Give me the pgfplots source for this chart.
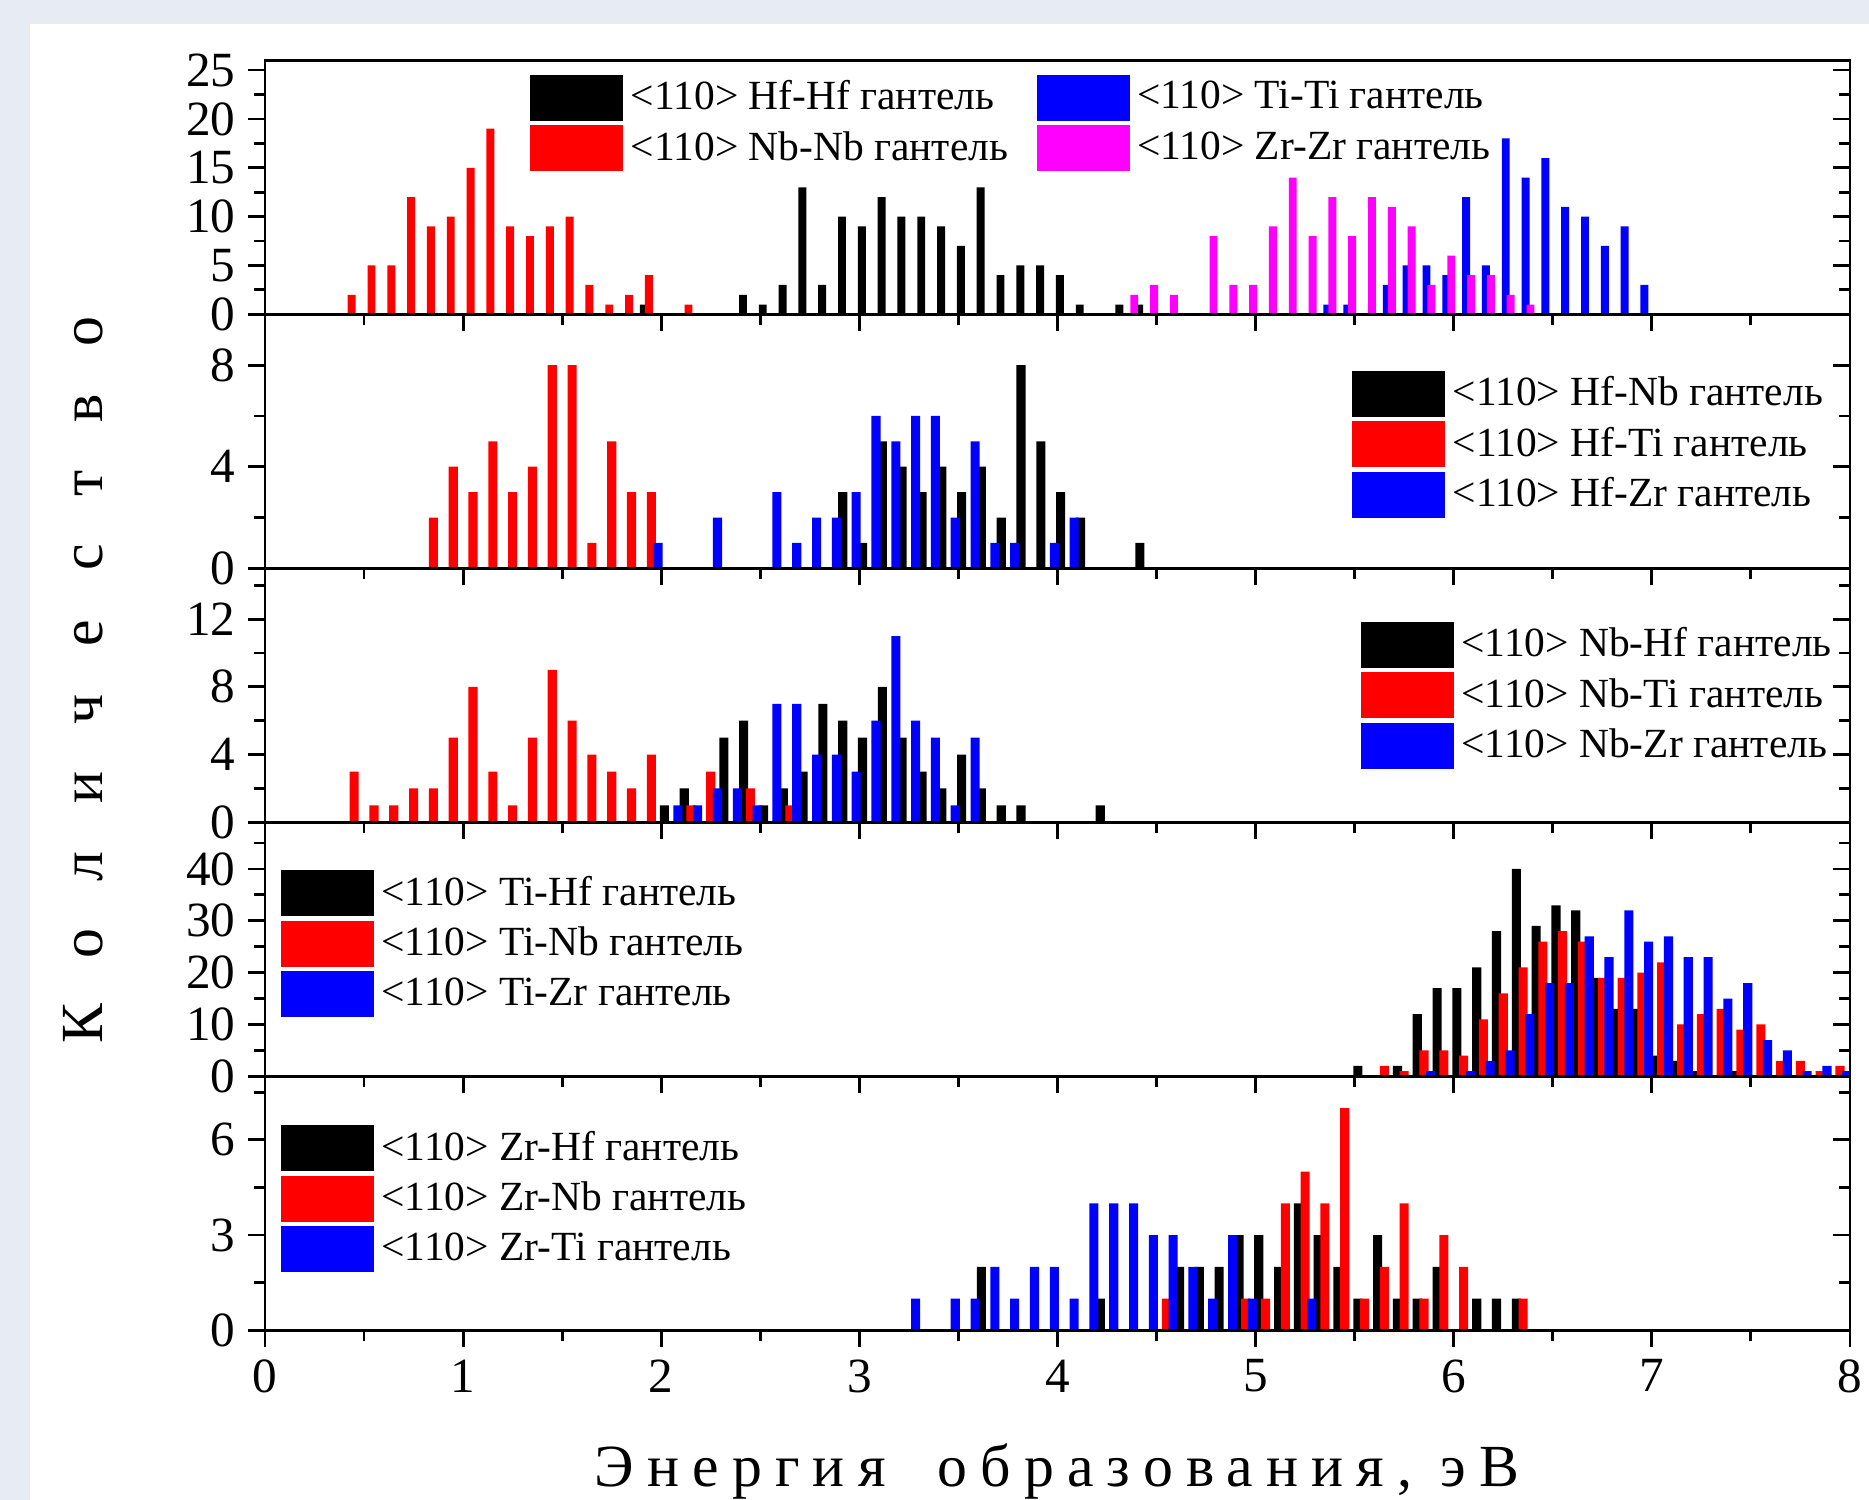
\documentclass[border=0pt]{standalone}
\usepackage{fontspec}
\setmainfont{Liberation Serif}
\newfontfamily\spacedfont[LetterSpace=22]{Liberation Serif}
\newfontfamily\tallspaced[LetterSpace=80]{Liberation Serif}
\usepackage{pgfplots}
\pgfplotsset{compat=1.18}
\definecolor{pagebg}{RGB}{231,235,243}
\definecolor{zrpink}{RGB}{255,0,255}
\definecolor{pureblue}{RGB}{0,0,255}
\definecolor{purered}{RGB}{255,0,0}

\pgfplotsset{
  frame/.style={scale only axis, width=15.85cm, height=2.54cm, xmin=0, xmax=8, ymin=0,
    anchor=north west, axis line style={line width=0.8pt},
    tick style={line width=0.8pt, black}, major tick length=0.17cm, minor tick length=0.11cm},
  panel/.style={frame, tick align=outside, xtick pos=bottom, ytick pos=left,
    xtick={0,...,8}, minor xtick={0.5,1.5,...,7.5}, xticklabels={},
    /pgf/number format/assume math mode=true,
    tick label style={font=\fontsize{14}{14}\selectfont},
    legend cell align=left,
    legend style={draw=none, fill=none, inner sep=0pt, outer sep=0pt, row sep=0.045cm,
      font=\fontsize{11.8}{12}\selectfont, nodes={inner sep=0.025cm}, anchor=north west,
      /tikz/every odd column/.append style={column sep=0.05cm}},
    legend image code/.code={\fill (0cm,-0.23cm) rectangle (0.93cm,0.23cm);}},
  rticks/.style={frame, tick align=inside, ytick pos=right, xtick=\empty, yticklabels={}},
  % four-series panel: bar width 0.04, shifts of 0.025
  q1/.style={ybar, bar width=0.04, bar shift=-0.0375, draw=none, fill=black},
  q2/.style={ybar, bar width=0.04, bar shift=-0.0125, draw=none, fill=purered},
  q3/.style={ybar, bar width=0.04, bar shift=0.0125, draw=none, fill=pureblue},
  q4/.style={ybar, bar width=0.04, bar shift=0.0375, draw=none, fill=zrpink},
  % three-series panels
  t1/.style={ybar, bar width=0.046, bar shift=-0.034, draw=none, fill=black},
  t2/.style={ybar, bar width=0.046, bar shift=0, draw=none, fill=purered},
  t3/.style={ybar, bar width=0.046, bar shift=0.034, draw=none, fill=pureblue},
}

\begin{document}
\begin{tikzpicture}
\useasboundingbox (0,0) rectangle (18.69cm,-15cm);
\clip (0,0) rectangle (18.69cm,-15cm);
\fill[pagebg] (0,0) rectangle (18.69cm,-15cm);
\fill[white] (0.30cm,-0.24cm) rectangle (18.69cm,-15cm);

% ---- panel 1 ----
\begin{axis}[panel, at={(2.65cm,-0.603cm)}, ymax=26, ytick={0,5,...,25}, minor ytick={2.5,7.5,...,22.5},
  legend columns=2, transpose legend,
  legend style={at={(0.1675,0.943)}, /tikz/every even column/.append style={column sep=0.26cm}}]
\addplot[q1] coordinates {(1.95,1) (2.45,2) (2.55,1) (2.65,3) (2.75,13) (2.85,3) (2.95,10) (3.05,9) (3.15,12) (3.25,10) (3.35,10) (3.45,9) (3.55,7) (3.65,13) (3.75,4) (3.85,5) (3.95,5) (4.05,4) (4.15,1) (4.35,1) (4.45,1)};
\addlegendentry{<110> Hf-Hf гантель}
\addplot[q2] coordinates {(0.45,2) (0.55,5) (0.65,5) (0.75,12) (0.85,9) (0.95,10) (1.05,15) (1.15,19) (1.25,9) (1.35,8) (1.45,9) (1.55,10) (1.65,3) (1.75,1) (1.85,2) (1.95,4) (2.15,1)};
\addlegendentry{<110> Nb-Nb гантель}
\addplot[q3] coordinates {(5.35,1) (5.45,1) (5.65,3) (5.75,5) (5.85,5) (5.95,4) (6.05,12) (6.15,5) (6.25,18) (6.35,14) (6.45,16) (6.55,11) (6.65,10) (6.75,7) (6.85,9) (6.95,3)};
\addlegendentry{<110> Ti-Ti гантель}
\addplot[q4] coordinates {(4.35,2) (4.45,3) (4.55,2) (4.75,8) (4.85,3) (4.95,3) (5.05,9) (5.15,14) (5.25,8) (5.35,12) (5.45,8) (5.55,12) (5.65,11) (5.75,9) (5.85,3) (5.95,6) (6.05,4) (6.15,4) (6.25,2) (6.35,1)};
\addlegendentry{<110> Zr-Zr гантель}
\end{axis}
\begin{axis}[rticks, at={(2.65cm,-0.603cm)}, ymax=26, ytick={0,5,...,25}, minor ytick={2.5,7.5,...,22.5}]
\end{axis}

% ---- panel 2 ----
\begin{axis}[panel, at={(2.65cm,-3.143cm)}, ymax=10, ytick={0,4,8}, minor ytick={2,6},
  legend style={at={(0.686,0.777)}}]
\addplot[t1] coordinates {(2.95,3) (3.05,1) (3.15,5) (3.25,4) (3.35,3) (3.45,4) (3.55,3) (3.65,4) (3.75,2) (3.85,8) (3.95,5) (4.05,3) (4.15,2) (4.45,1)};
\addlegendentry{<110> Hf-Nb гантель}
\addplot[t2] coordinates {(0.85,2) (0.95,4) (1.05,3) (1.15,5) (1.25,3) (1.35,4) (1.45,8) (1.55,8) (1.65,1) (1.75,5) (1.85,3) (1.95,3)};
\addlegendentry{<110> Hf-Ti гантель}
\addplot[t3] coordinates {(1.95,1) (2.25,2) (2.55,3) (2.65,1) (2.75,2) (2.85,2) (2.95,3) (3.05,6) (3.15,5) (3.25,6) (3.35,6) (3.45,2) (3.55,5) (3.65,1) (3.75,1) (3.95,1) (4.05,2)};
\addlegendentry{<110> Hf-Zr гантель}
\end{axis}
\begin{axis}[rticks, at={(2.65cm,-3.143cm)}, ymax=10, ytick={0,4,8}, minor ytick={2,6}]
\end{axis}

% ---- panel 3 ----
\begin{axis}[panel, at={(2.65cm,-5.683cm)}, ymax=15, ytick={0,4,8,12}, minor ytick={2,6,10,14},
  legend style={at={(0.6915,0.789)}}]
\addplot[t1] coordinates {(2.05,1) (2.15,2) (2.35,5) (2.45,6) (2.55,1) (2.65,2) (2.75,3) (2.85,7) (2.95,6) (3.05,5) (3.15,8) (3.25,5) (3.35,3) (3.45,2) (3.55,4) (3.65,2) (3.75,1) (3.85,1) (4.25,1)};
\addlegendentry{<110> Nb-Hf гантель}
\addplot[t2] coordinates {(0.45,3) (0.55,1) (0.65,1) (0.75,2) (0.85,2) (0.95,5) (1.05,8) (1.15,3) (1.25,1) (1.35,5) (1.45,9) (1.55,6) (1.65,4) (1.75,3) (1.85,2) (1.95,4) (2.15,1) (2.25,3) (2.45,2) (2.65,1)};
\addlegendentry{<110> Nb-Ti гантель}
\addplot[t3] coordinates {(2.05,1) (2.15,1) (2.25,2) (2.35,2) (2.45,1) (2.55,7) (2.65,7) (2.75,4) (2.85,4) (2.95,3) (3.05,6) (3.15,11) (3.25,6) (3.35,5) (3.45,1) (3.55,5)};
\addlegendentry{<110> Nb-Zr гантель}
\end{axis}
\begin{axis}[rticks, at={(2.65cm,-5.683cm)}, ymax=15, ytick={0,4,8,12}, minor ytick={2,6,10,14}]
\end{axis}

% ---- panel 4 ----
\begin{axis}[panel, at={(2.65cm,-8.223cm)}, ymax=49, ytick={0,10,...,40}, minor ytick={5,15,...,45},
  legend style={at={(0.0101,0.812)}}]
\addplot[t1] coordinates {(5.55,2) (5.75,2) (5.85,12) (5.95,17) (6.05,17) (6.15,21) (6.25,28) (6.35,40) (6.45,29) (6.55,33) (6.65,32) (6.75,19) (6.85,13) (6.95,13) (7.05,4) (7.15,3) (7.25,1) (7.45,1)};
\addlegendentry{<110> Ti-Hf гантель}
\addplot[t2] coordinates {(5.65,2) (5.75,1) (5.85,5) (5.95,5) (6.05,4) (6.15,11) (6.25,16) (6.35,21) (6.45,26) (6.55,28) (6.65,26) (6.75,19) (6.85,19) (6.95,20) (7.05,22) (7.15,10) (7.25,12) (7.35,13) (7.45,9) (7.55,10) (7.65,3) (7.75,3) (7.85,1) (7.95,2)};
\addlegendentry{<110> Ti-Nb гантель}
\addplot[t3] coordinates {(5.85,1) (6.05,1) (6.15,3) (6.25,5) (6.35,12) (6.45,18) (6.55,18) (6.65,27) (6.75,23) (6.85,32) (6.95,26) (7.05,27) (7.15,23) (7.25,23) (7.35,15) (7.45,18) (7.55,7) (7.65,5) (7.75,1) (7.85,2) (7.95,1)};
\addlegendentry{<110> Ti-Zr гантель}
\end{axis}
\begin{axis}[rticks, at={(2.65cm,-8.223cm)}, ymax=49, ytick={0,10,...,40}, minor ytick={5,15,...,45}]
\end{axis}

% ---- panel 5 ----
\begin{axis}[panel, at={(2.65cm,-10.763cm)}, ymax=8, ytick={0,3,6}, minor ytick={1.5,4.5,7.5},
  xticklabels={0,1,2,3,4,5,6,7,8},
  legend style={at={(0.0101,0.808)}}]
\addplot[t1] coordinates {(3.65,2) (4.25,1) (4.65,2) (4.75,2) (4.85,2) (4.95,3) (5.05,3) (5.15,2) (5.25,4) (5.35,3) (5.45,2) (5.55,1) (5.65,3) (5.75,1) (5.85,1) (5.95,2) (6.15,1) (6.25,1) (6.35,1)};
\addlegendentry{<110> Zr-Hf гантель}
\addplot[t2] coordinates {(4.55,1) (4.95,1) (5.05,1) (5.15,4) (5.25,5) (5.35,4) (5.45,7) (5.55,1) (5.65,2) (5.75,4) (5.85,1) (5.95,3) (6.05,2) (6.35,1)};
\addlegendentry{<110> Zr-Nb гантель}
\addplot[t3] coordinates {(3.25,1) (3.45,1) (3.55,1) (3.65,2) (3.75,1) (3.85,2) (3.95,2) (4.05,1) (4.15,4) (4.25,4) (4.35,4) (4.45,3) (4.55,3) (4.65,2) (4.75,1) (4.85,3) (4.95,1) (5.25,1)};
\addlegendentry{<110> Zr-Ti гантель}
\end{axis}
\begin{axis}[rticks, at={(2.65cm,-10.763cm)}, ymax=8, ytick={0,3,6}, minor ytick={1.5,4.5,7.5}]
\end{axis}

\node[font=\spacedfont\fontsize{17}{17}\selectfont, anchor=base] at (10.57cm,-14.86cm) {Энергия\hspace{0.4em} образования, эВ};
\node[font=\tallspaced\fontsize{17}{17}\selectfont, rotate=90] at (0.83cm,-6.8cm) {Количество};
\end{tikzpicture}
\end{document}
